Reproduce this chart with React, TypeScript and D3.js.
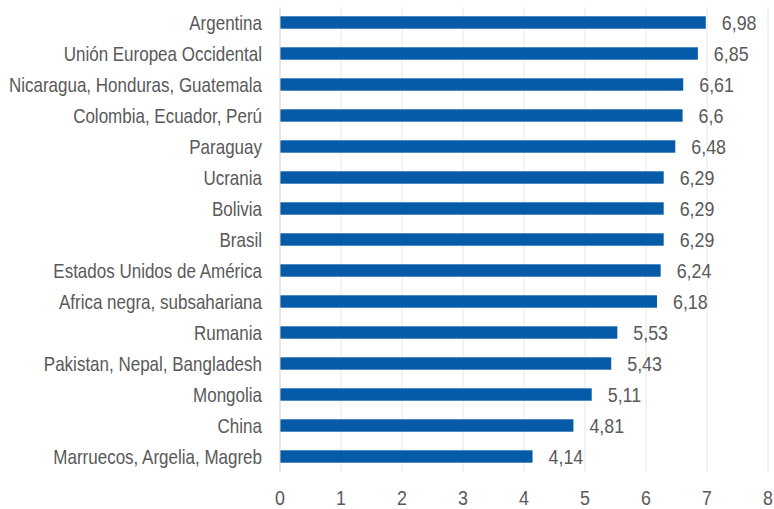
import React, { useRef, useEffect } from 'react';
import * as d3 from 'd3';

const categories = [
  'Argentina',
  'Unión Europea Occidental',
  'Nicaragua, Honduras, Guatemala',
  'Colombia, Ecuador, Perú',
  'Paraguay',
  'Ucrania',
  'Bolivia',
  'Brasil',
  'Estados Unidos de América',
  'Africa negra, subsahariana',
  'Rumania',
  'Pakistan, Nepal, Bangladesh',
  'Mongolia',
  'China',
  'Marruecos, Argelia, Magreb',
];
const values = [6.98, 6.85, 6.61, 6.6, 6.48, 6.29, 6.29, 6.29, 6.24, 6.18, 5.53, 5.43, 5.11, 4.81, 4.14];
const valueLabels = ['6,98', '6,85', '6,61', '6,6', '6,48', '6,29', '6,29', '6,29', '6,24', '6,18', '5,53', '5,43', '5,11', '4,81', '4,14'];
const xTicks = [0, 1, 2, 3, 4, 5, 6, 7, 8];

const W = 774;
const H = 509;
const FONT = '"Liberation Sans", Arial, sans-serif';
const NARROW = 0.85; // squeeze to mimic a narrow face

const App: React.FC = () => {
  const svgRef = useRef<SVGSVGElement>(null);

  useEffect(() => {
    if (!svgRef.current) return;
    const svg = d3.select(svgRef.current);
    svg.selectAll('*').remove();

    const margin = { top: 7, right: 6, bottom: 37, left: 280 };
    const ch = H - margin.top - margin.bottom;

    const g = svg.append('g').attr('transform', `translate(${margin.left},${margin.top})`);

    const x = d3.scaleLinear().domain([0, 8]).range([0, 488]);
    const y = d3.scaleBand().domain(categories).range([0, ch]).paddingInner(0.6).paddingOuter(0.3);

    const narrowText = (
      parent: d3.Selection<SVGGElement, unknown, null, undefined>,
      px: number, py: number, txt: string, size: number, anchor: string
    ) => {
      parent.append('g')
        .attr('transform', `translate(${px},${py}) scale(${NARROW},1)`)
        .append('text')
        .attr('dy', '0.36em')
        .attr('text-anchor', anchor)
        .attr('font-family', FONT)
        .attr('font-size', `${size}px`)
        .attr('fill', '#595959')
        .text(txt);
    };

    // Vertical gridlines
    g.append('g')
      .selectAll('line')
      .data(xTicks.slice(1))
      .enter().append('line')
      .attr('x1', d => x(d)).attr('x2', d => x(d))
      .attr('y1', 0).attr('y2', ch)
      .attr('stroke', '#e6e6e6')
      .attr('stroke-width', 1);

    // Bars
    g.selectAll('.bar')
      .data(values)
      .enter().append('rect')
      .attr('x', x(0))
      .attr('y', (d, i) => y(categories[i]) || 0)
      .attr('width', d => x(d) - x(0))
      .attr('height', y.bandwidth())
      .attr('fill', '#065ba9');

    // Left axis line
    g.append('line')
      .attr('x1', x(0)).attr('x2', x(0))
      .attr('y1', 0).attr('y2', ch)
      .attr('stroke', '#d0d0d0')
      .attr('stroke-width', 1);

    const labels = g.append('g');

    categories.forEach(c => {
      narrowText(labels, -18, (y(c) || 0) + y.bandwidth() / 2, c, 20, 'end');
    });

    values.forEach((v, i) => {
      narrowText(labels, x(v) + 16, (y(categories[i]) || 0) + y.bandwidth() / 2, valueLabels[i], 21, 'start');
    });

    xTicks.forEach(t => {
      narrowText(labels, x(t), ch + 25, String(t), 21, 'middle');
    });
  }, []);

  return (
    <svg
      ref={svgRef}
      width={W}
      height={H}
      style={{ position: 'absolute', left: 0, top: 0, background: '#fff' }}
    />
  );
};

export default App;
